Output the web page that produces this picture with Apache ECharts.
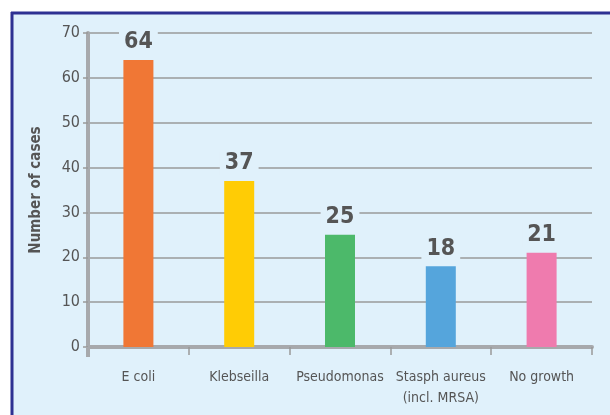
<!DOCTYPE html>
<html>
<head>
<meta charset="utf-8">
<script src="https://cdn.jsdelivr.net/npm/echarts@6/dist/echarts.min.js"></script>
<style>
  html, body { margin: 0; padding: 0; background: #ffffff; }
  #chart { width: 610px; height: 415px; }
</style>
</head>
<body>
<div id="chart"></div>
<script>
// Organisms isolated and number of cases for each
const categories = ['E coli', 'Klebseilla', 'Pseudomonas', 'Stasph aureus\n(incl. MRSA)', 'No growth'];
const cases = [64, 37, 25, 18, 21];
const barColors = ['#f07735', '#ffcc05', '#4cb96a', '#55a5dc', '#ef7bae'];
const yTicks = [0, 10, 20, 30, 40, 50, 60, 70];

const FONT = '"DejaVu Sans Condensed", "Liberation Sans Narrow", "Liberation Sans", Arial, sans-serif';
const PANEL = '#e0f1fb';
const INK = '#555555';

const chart = echarts.init(document.getElementById('chart'), null, { renderer: 'canvas' });

chart.setOption({
  backgroundColor: '#ffffff',
  animation: false,
  graphic: [
    { type: 'rect', z: -10, shape: { x: 11, y: 12, width: 610, height: 415 }, style: { fill: PANEL } },
    { type: 'line', z: -9, shape: { x1: 11, y1: 13, x2: 610, y2: 13 }, style: { stroke: '#2e3192', lineWidth: 3 } },
    { type: 'line', z: -9, shape: { x1: 12, y1: 12, x2: 12, y2: 415 }, style: { stroke: '#2e3192', lineWidth: 3 } },
    // short stub of the value axis running past the category axis
    { type: 'line', z: 10, shape: { x1: 88, y1: 347, x2: 88, y2: 357 }, style: { stroke: '#a7a9ac', lineWidth: 4 } }
  ],
  grid: { left: 88, right: 18, top: 33, bottom: 68 },
  xAxis: {
    type: 'category',
    data: categories,
    axisLine: { lineStyle: { color: '#a7a9ac', width: 4 } },
    axisTick: { show: true, length: 8, lineStyle: { color: '#999999', width: 1.5 } },
    axisLabel: { interval: 0, color: INK, fontFamily: FONT, fontSize: 14, margin: 20, lineHeight: 21 }
  },
  yAxis: {
    type: 'value',
    min: yTicks[0],
    max: yTicks[yTicks.length - 1],
    interval: 10,
    name: 'Number of cases',
    nameLocation: 'middle',
    nameGap: 44,
    nameTextStyle: { color: INK, fontFamily: FONT, fontSize: 15, fontWeight: 'bold' },
    axisLine: { show: true, lineStyle: { color: '#a7a9ac', width: 4 } },
    axisTick: { show: true, length: 5, lineStyle: { color: '#999999', width: 1.5 } },
    axisLabel: { color: INK, fontFamily: FONT, fontSize: 16, margin: 8 },
    splitLine: { lineStyle: { color: '#9a9a9a', width: 1.5 } }
  },
  series: [{
    type: 'bar',
    data: cases.map((v, i) => ({ value: v, itemStyle: { color: barColors[i] } })),
    barWidth: 30,
    label: {
      show: true,
      position: 'top',
      distance: 6,
      color: INK,
      fontFamily: FONT,
      fontSize: 23,
      fontWeight: 'bold',
      backgroundColor: PANEL,
      padding: [0, 5]
    }
  }]
});
</script>
</body>
</html>
